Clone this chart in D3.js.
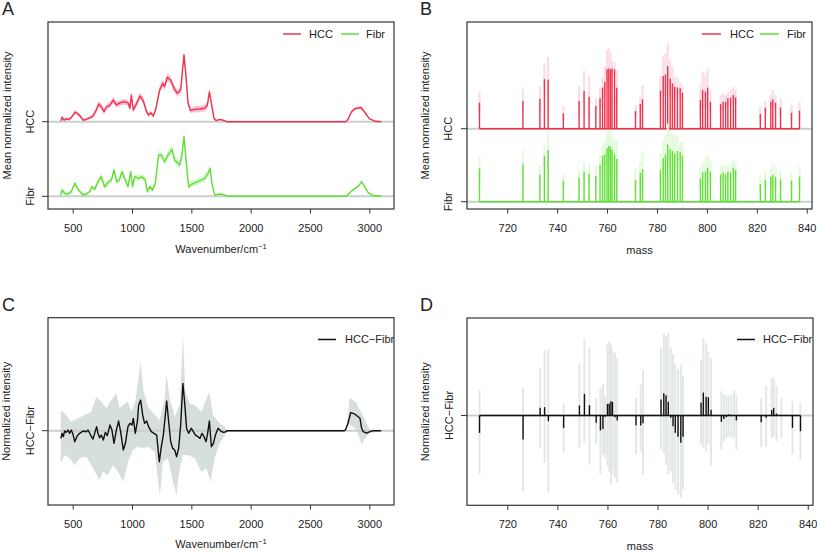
<!DOCTYPE html>
<html><head><meta charset="utf-8">
<script src="https://cdn.jsdelivr.net/npm/d3@7"></script>
<style>body{margin:0;background:#fff}svg text{font-family:"Liberation Sans",Arial,Helvetica,sans-serif;fill:#222}</style>
</head><body><svg id="c" width="817" height="553"></svg>
<script>
// ---------- DATA ----------
const groups = ["HCC", "Fibr"];
const groupOffsets = [1, 0];
const waveTicks = [500, 1000, 1500, 2000, 2500, 3000];
const massTicks = [720, 740, 760, 780, 800, 820, 840];

// Raman spectra: [wavenumber, mean, sd]
const hccSpectrum = [[400,0.01,0.01],[410,0.06,0.02],[427,0.02,0.02],[446,0.04,0.02],[466,0.03,0.02],[488,0.055,0.02],[522,0.13,0.025],[559,0.085,0.025],[587,0.02,0.02],[615,0.032,0.02],[643,0.05,0.025],[671,0.076,0.03],[699,0.157,0.04],[719,0.237,0.045],[741,0.20,0.04],[764,0.134,0.035],[786,0.20,0.04],[812,0.22,0.04],[842,0.29,0.045],[868,0.224,0.04],[896,0.25,0.04],[932,0.268,0.04],[966,0.255,0.04],[983,0.179,0.04],[994,0.358,0.04],[1011,0.157,0.04],[1039,0.246,0.045],[1067,0.344,0.05],[1095,0.28,0.05],[1123,0.134,0.04],[1140,0.09,0.03],[1157,0.121,0.03],[1180,0.076,0.03],[1202,0.179,0.035],[1233,0.425,0.045],[1258,0.514,0.05],[1275,0.47,0.05],[1297,0.595,0.055],[1326,0.559,0.055],[1354,0.447,0.05],[1382,0.38,0.05],[1410,0.425,0.05],[1438,0.894,0.065],[1455,0.61,0.05],[1472,0.25,0.04],[1494,0.148,0.035],[1528,0.166,0.04],[1570,0.17,0.045],[1612,0.18,0.045],[1635,0.22,0.045],[1652,0.40,0.045],[1669,0.25,0.035],[1691,0.045,0.02],[1711,0.014,0.01],[1739,0.03,0.01],[1767,0.02,0.01],[1795,0.005,0.005],[1800,0,0],[2800,0,0],[2820,0.03,0.01],[2850,0.134,0.02],[2880,0.175,0.02],[2930,0.19,0.02],[2960,0.13,0.015],[3000,0.04,0.01],[3050,0.005,0.005],[3100,0,0]];
const fibrSpectrum = [[400,0.017,0.03],[410,0.084,0.04],[432,0.04,0.035],[460,0.031,0.03],[488,0.062,0.03],[517,0.174,0.03],[550,0.084,0.03],[587,0.017,0.02],[615,0.031,0.02],[643,0.062,0.025],[662,0.129,0.03],[685,0.093,0.03],[713,0.196,0.04],[741,0.263,0.045],[769,0.129,0.04],[792,0.174,0.04],[826,0.218,0.04],[848,0.353,0.045],[871,0.196,0.04],[893,0.218,0.04],[916,0.33,0.045],[944,0.218,0.04],[966,0.129,0.035],[989,0.33,0.04],[1005,0.129,0.035],[1022,0.263,0.04],[1056,0.241,0.04],[1084,0.263,0.04],[1112,0.218,0.04],[1129,0.062,0.03],[1151,0.129,0.03],[1174,0.084,0.03],[1196,0.174,0.035],[1224,0.554,0.05],[1247,0.554,0.05],[1275,0.464,0.05],[1303,0.554,0.05],[1337,0.63,0.055],[1360,0.487,0.05],[1402,0.42,0.05],[1421,0.554,0.05],[1438,0.80,0.06],[1455,0.487,0.05],[1477,0.129,0.04],[1506,0.165,0.04],[1556,0.196,0.045],[1612,0.241,0.045],[1641,0.308,0.045],[1658,0.375,0.045],[1674,0.174,0.035],[1697,0.017,0.02],[1725,0.026,0.01],[1753,0.031,0.01],[1781,0.017,0.01],[1800,0,0],[2800,0,0],[2820,0.02,0.01],[2850,0.07,0.015],[2880,0.107,0.015],[2910,0.14,0.015],[2935,0.196,0.015],[2960,0.13,0.015],[2990,0.05,0.01],[3030,0.01,0.005],[3100,0,0]];

// Difference spectrum HCC-Fibr: [wavenumber, value]
const diffSpectrum = [[400,-0.0153],[410,-0.0053],[421,-0.012],[432,-0.0007],[446,-0.0033],[460,0.0013],[474,-0.0053],[488,0.0013],[503,-0.0073],[517,-0.022],[539,-0.01],[559,-0.0053],[587,-0.0007],[615,-0.002],[629,0.0013],[651,-0.0087],[671,-0.0167],[685,-0.0053],[702,0.008],[713,-0.0053],[727,-0.014],[741,-0.0087],[758,-0.0187],[775,-0.0033],[792,-0.01],[814,0.0113],[831,0.0013],[848,-0.0253],[868,0.0013],[887,0.0193],[904,-0.002],[927,-0.0387],[944,-0.0253],[966,0.008],[983,0.0147],[1000,0.0113],[1011,0.0247],[1028,-0.0053],[1045,0.018],[1056,0.0513],[1073,0.0613],[1090,0.0313],[1106,0.0147],[1123,0.0193],[1140,0.008],[1163,-0.002],[1185,-0.0053],[1208,-0.0087],[1230,-0.062],[1247,-0.032],[1264,-0.0087],[1281,0.0313],[1292,0.0593],[1309,0.018],[1326,-0.022],[1343,-0.0353],[1360,-0.0387],[1376,-0.052],[1393,-0.0353],[1410,0.0113],[1429,0.0947],[1443,0.058],[1460,0.0047],[1477,-0.0053],[1500,0.0047],[1517,-0.002],[1534,-0.0087],[1556,-0.012],[1573,-0.0153],[1590,-0.0053],[1607,-0.012],[1624,-0.022],[1635,-0.0087],[1652,0.0193],[1669,-0.032],[1686,-0.0253],[1703,-0.0087],[1725,0.0047],[1748,-0.0007],[1770,-0.0033],[1792,-0.002],[1800,0],[2790,0],[2800,0.002],[2820,0.015],[2843,0.036],[2879,0.033],[2921,0.025],[2935,0.005],[2949,-0.002],[2977,-0.005],[3005,-0.002],[3030,0],[3100,0]];
const diffBandUpper = [[399,0.0413],[432,0.0347],[488,0.018],[545,0.0247],[601,0.0313],[657,0.038],[699,0.068],[741,0.058],[783,0.0447],[826,0.0613],[868,0.0747],[896,0.0447],[924,0.0513],[966,0.058],[994,0.038],[1028,0.058],[1050,0.098],[1073,0.138],[1095,0.0813],[1134,0.048],[1191,0.0313],[1233,0.0213],[1275,0.0647],[1292,0.1113],[1317,0.0647],[1360,0.028],[1402,0.0513],[1429,0.1913],[1449,0.078],[1486,0.0547],[1528,0.0513],[1584,0.038],[1652,0.078],[1683,0.0313],[1725,0.018],[1781,0.008],[1795,0.0013],[1800,0],[2790,0],[2810,0.01],[2835,0.066],[2890,0.056],[2949,0.029],[3005,0.001],[3100,0]];
const diffBandLower = [[399,-0.0653],[432,-0.0487],[474,-0.0553],[517,-0.0687],[559,-0.0553],[615,-0.052],[671,-0.0753],[727,-0.0987],[755,-0.082],[797,-0.0887],[840,-0.0687],[882,-0.082],[927,-0.102],[966,-0.062],[1008,-0.0387],[1050,-0.032],[1092,-0.0353],[1134,-0.032],[1191,-0.042],[1235,-0.13],[1261,-0.062],[1303,-0.0553],[1345,-0.102],[1376,-0.1287],[1393,-0.0887],[1429,-0.0487],[1472,-0.0487],[1528,-0.0553],[1584,-0.082],[1626,-0.0753],[1663,-0.102],[1697,-0.0553],[1739,-0.0253],[1781,-0.01],[1795,-0.002],[1800,0],[2790,0],[2835,0.013],[2890,0.003],[2935,-0.027],[2977,-0.011],[3005,-0.005],[3100,0]];

// MS peaks
const massPeaks = [708.9,726.3,733.1,734.9,736.4,742.5,748.8,750.8,752.8,755.5,757.2,758.2,759.1,760.0,760.7,761.4,762.0,763.0,763.9,771.4,773.3,774.2,781.4,782.5,783.4,784.3,785.3,786.2,787.1,788.2,789.3,790.2,797.4,798.3,799.4,800.3,801.4,805.5,806.5,807.5,808.4,809.5,810.6,811.5,821.4,823.4,825.6,826.4,827.5,829.5,833.9,837.1];
const hccMean = [0.356,0.379,0.406,0.680,0.671,0.210,0.379,0.516,0.438,0.311,0.416,0.562,0.644,0.813,0.826,0.813,0.826,0.813,0.562,0.242,0.338,0.402,0.521,0.721,0.744,0.858,0.689,0.621,0.575,0.566,0.553,0.493,0.393,0.530,0.507,0.562,0.370,0.338,0.370,0.370,0.416,0.425,0.461,0.429,0.201,0.288,0.370,0.402,0.356,0.292,0.219,0.247];
const hccHi = [0.507,0.543,0.584,0.895,0.986,0.311,0.584,0.790,0.726,0.416,0.562,0.699,0.849,1.078,1.100,1.032,0.941,0.909,0.804,0.324,0.438,0.598,0.735,0.986,1.032,1.169,0.941,0.849,0.712,0.699,0.644,0.575,0.598,0.781,0.735,0.826,0.530,0.461,0.484,0.461,0.507,0.530,0.575,0.530,0.301,0.379,0.461,0.530,0.461,0.416,0.324,0.370];
const fibrMean = [0.457,0.511,0.374,0.630,0.708,0.288,0.329,0.411,0.384,0.356,0.502,0.630,0.648,0.731,0.763,0.753,0.708,0.648,0.584,0.297,0.397,0.443,0.434,0.594,0.648,0.785,0.717,0.694,0.662,0.694,0.685,0.630,0.320,0.402,0.411,0.466,0.411,0.374,0.397,0.374,0.411,0.402,0.466,0.434,0.242,0.297,0.342,0.365,0.342,0.306,0.288,0.342];
const fibrHi = [0.616,0.708,0.489,0.776,0.959,0.374,0.434,0.548,0.525,0.502,0.639,0.776,0.822,0.959,0.982,0.959,0.913,0.868,0.845,0.457,0.548,0.685,0.662,0.822,0.913,1.073,0.982,0.936,0.913,0.913,0.822,0.822,0.457,0.548,0.594,0.639,0.571,0.502,0.502,0.479,0.502,0.525,0.571,0.548,0.365,0.411,0.457,0.502,0.479,0.434,0.411,0.479];
const diffVal = [-0.237,-0.329,0.105,0.114,-0.078,-0.169,0.137,0.297,0.142,-0.100,-0.205,-0.183,-0.018,0.160,0.164,0.196,0.187,-0.023,-0.068,-0.132,-0.137,-0.105,0.219,0.306,0.279,0.187,-0.032,-0.146,-0.237,-0.292,-0.374,-0.292,0.174,0.315,0.256,0.251,0.078,-0.087,-0.046,-0.023,0.014,0.009,-0.005,-0.068,-0.091,-0.032,0.078,0.105,0.027,-0.005,-0.169,-0.215];
const diffHi = [0.342,0.379,0.644,0.895,0.913,0.164,0.699,1.050,0.936,0.242,0.379,0.425,0.265,0.973,1.018,0.973,0.881,0.858,0.790,0.242,0.425,0.630,0.927,1.119,1.087,1.132,0.927,0.836,0.699,0.630,0.699,0.539,0.767,1.064,0.995,0.881,0.790,0.333,0.297,0.265,0.265,0.288,0.342,0.274,0.242,0.402,0.507,0.516,0.402,0.242,0.196,0.174];
const diffLo = [-0.808,-1.037,-0.443,-0.648,-1.059,-0.511,-0.443,-0.374,-0.671,-0.397,-0.808,-0.534,-0.580,-0.694,-0.763,-0.945,-0.808,-0.854,-0.922,-0.534,-0.489,-0.808,-0.466,-0.511,-0.671,-0.808,-0.763,-0.922,-1.014,-1.082,-1.128,-1.014,-0.397,-0.443,-0.489,-0.397,-0.694,-0.466,-0.352,-0.306,-0.283,-0.306,-0.306,-0.466,-0.434,-0.420,-0.306,-0.283,-0.352,-0.306,-0.525,-0.603];

// ---------- DRAW ----------
const svg = d3.select("#c");
const RED = "#F0334A", GREEN = "#5FE034", PINK = "#F8C2D9", LGREEN = "#D8F5CC",
      PINK_B = "#FBDCE9", LGREEN_B = "#E5F9DD", BAND = "#D6DFDC", GBAR = "#E2E8E6", BASE = "#C9CFCF", INK = "#111";

function frame(x0, x1, y0, y1) {
  svg.append("rect").attr("x", x0).attr("y", y0).attr("width", x1 - x0).attr("height", y1 - y0)
    .attr("fill", "none").attr("stroke", "#333").attr("stroke-width", 1.2);
}
function xAxis(scale, y, ticks, title, titleY, sup) {
  const g = svg.append("g").attr("transform", `translate(0,${y})`)
    .call(d3.axisBottom(scale).tickValues(ticks).tickSize(4.5).tickPadding(10.7).tickFormat(d3.format("d")));
  g.select(".domain").remove();
  g.selectAll(".tick line").attr("stroke", "#333");
  g.selectAll(".tick text").attr("font-size", 11).style("font-family", '"Liberation Sans",Arial,sans-serif').attr("fill", "#222");
  const [r0, r1] = scale.range();
  const t = svg.append("text").attr("x", (r0 + r1) / 2).attr("y", titleY).attr("text-anchor", "middle").attr("font-size", 11).text(title);
  if (sup) t.append("tspan").attr("font-size", 7.5).attr("dy", -4.5).text(sup);
}
function yLabels(x0, yScale, ticks, labels, labelX, title, titleX, y0, y1) {
  ticks.forEach((v, i) => {
    svg.append("line").attr("x1", x0 - 6).attr("x2", x0).attr("y1", yScale(v)).attr("y2", yScale(v)).attr("stroke", "#333");
    svg.append("text").attr("transform", `translate(${labelX},${yScale(v)}) rotate(-90)`).attr("text-anchor", "middle").attr("font-size", 11).text(labels[i]);
  });
  svg.append("text").attr("transform", `translate(${titleX},${(y0 + y1) / 2}) rotate(-90)`).attr("text-anchor", "middle").attr("font-size", 11).text(title);
}
function legend(items, y) {
  items.forEach(it => {
    svg.append("line").attr("x1", it.x1).attr("x2", it.x2).attr("y1", y).attr("y2", y).attr("stroke", it.color).attr("stroke-width", 1.5);
    svg.append("text").attr("x", it.tx).attr("y", y + 3.8).attr("font-size", 11).text(it.label);
  });
}
function panelLetter(t, x, y) { svg.append("text").attr("x", x).attr("y", y).attr("font-size", 18).text(t); }

// ===== Panel A =====
{
  const x = d3.scaleLinear().domain([292, 3208]).range([48, 394]);
  const y = d3.scaleLinear().domain([-0.17, 2.336]).range([209, 22]);
  const specs = [hccSpectrum, fibrSpectrum];
  const lineCols = [RED, GREEN], bandCols = [PINK, LGREEN];
  specs.forEach((s, i) => {
    const off = groupOffsets[i];
    svg.append("path").datum(s).attr("fill", bandCols[i])
      .attr("d", d3.area().x(d => x(d[0])).y0(d => y(off + d[1] - d[2])).y1(d => y(off + d[1] + d[2])));
    svg.append("line").attr("x1", 48).attr("x2", 394).attr("y1", y(off)).attr("y2", y(off)).attr("stroke", BASE).attr("stroke-width", 2);
    svg.append("path").datum(s).attr("fill", "none").attr("stroke", lineCols[i]).attr("stroke-width", 1.4).attr("stroke-linejoin", "round")
      .attr("d", d3.line().x(d => x(d[0])).y(d => y(off + d[1])));
  });
  frame(48, 394, 22, 209);
  xAxis(x, 209, waveTicks, "Wavenumber/cm", 253, "−1");
  yLabels(48, y, groupOffsets, groups, 33.5, "Mean normalized intensity", 11, 22, 209);
  legend([{x1: 283, x2: 301, tx: 309, color: RED, label: "HCC"}, {x1: 341, x2: 359, tx: 366, color: GREEN, label: "Fibr"}], 34);
  panelLetter("A", 2, 15);
}

// ===== Panel B =====
{
  const x = d3.scaleLinear().domain([703.9, 842.1]).range([467, 812]);
  const y = d3.scaleLinear().domain([-0.1, 2.462]).range([209, 22]);
  const means = [hccMean, fibrMean], his = [hccHi, fibrHi];
  const lineCols = [RED, GREEN], bandCols = [PINK_B, LGREEN_B];
  [0, 1].forEach(i => {
    const off = groupOffsets[i];
    svg.append("line").attr("x1", 467).attr("x2", 812).attr("y1", y(off)).attr("y2", y(off)).attr("stroke", BASE).attr("stroke-width", 2);
    svg.append("g").selectAll("line").data(massPeaks).join("line")
      .attr("x1", d => x(d)).attr("x2", d => x(d))
      .attr("y1", (d, j) => y(off + 2 * means[i][j] - his[i][j])).attr("y2", (d, j) => y(off + his[i][j]))
      .attr("stroke", bandCols[i]).attr("stroke-width", 2.2);
    svg.append("g").selectAll("line").data(massPeaks).join("line")
      .attr("x1", d => x(d)).attr("x2", d => x(d))
      .attr("y1", y(off)).attr("y2", (d, j) => y(off + means[i][j]))
      .attr("stroke", lineCols[i]).attr("stroke-width", 1.4);
    svg.append("line").attr("x1", x(massPeaks[0])).attr("x2", x(massPeaks[massPeaks.length - 1])).attr("y1", y(off)).attr("y2", y(off))
      .attr("stroke", lineCols[i]).attr("stroke-width", 1.5);
  });
  frame(467, 812, 22, 209);
  xAxis(x, 209, massTicks, "mass", 254);
  yLabels(467, y, groupOffsets, groups, 452, "Mean normalized intensity", 429, 22, 209);
  legend([{x1: 702, x2: 721, tx: 730, color: RED, label: "HCC"}, {x1: 760, x2: 779, tx: 787, color: GREEN, label: "Fibr"}], 34);
  panelLetter("B", 420, 15);
}

// ===== Panel C =====
{
  const x = d3.scaleLinear().domain([292, 3208]).range([48, 394]);
  const y = d3.scaleLinear().domain([-0.1486, 0.226]).range([505, 317.7]);
  const poly = diffBandUpper.concat(diffBandLower.slice().reverse());
  svg.append("path").datum(poly).attr("fill", BAND)
    .attr("d", d => d3.line().x(p => x(p[0])).y(p => y(p[1]))(d) + "Z");
  svg.append("line").attr("x1", 48).attr("x2", 394).attr("y1", y(0)).attr("y2", y(0)).attr("stroke", BASE).attr("stroke-width", 2);
  svg.append("path").datum(diffSpectrum).attr("fill", "none").attr("stroke", INK).attr("stroke-width", 1.4).attr("stroke-linejoin", "round")
    .attr("d", d3.line().x(d => x(d[0])).y(d => y(d[1])));
  frame(48, 394, 317.7, 505);
  xAxis(x, 505, waveTicks, "Wavenumber/cm", 548, "−1");
  yLabels(48, y, [0], ["HCC−Fibr"], 34, "Normalized intensity", 10, 317.7, 505);
  legend([{x1: 318, x2: 336, tx: 345, color: INK, label: "HCC−Fibr"}], 339.5);
  panelLetter("C", 2, 311);
}

// ===== Panel D =====
{
  const x = d3.scaleLinear().domain([703.9, 842.1]).range([467, 813]);
  const y = d3.scaleLinear().domain([-1.23, 1.336]).range([505.3, 318]);
  svg.append("g").selectAll("line").data(massPeaks).join("line")
    .attr("x1", d => x(d)).attr("x2", d => x(d))
    .attr("y1", (d, j) => y(diffLo[j])).attr("y2", (d, j) => y(diffHi[j]))
    .attr("stroke", GBAR).attr("stroke-width", 2);
  svg.append("line").attr("x1", 467).attr("x2", 813).attr("y1", y(0)).attr("y2", y(0)).attr("stroke", BASE).attr("stroke-width", 2);
  svg.append("g").selectAll("line").data(massPeaks).join("line")
    .attr("x1", d => x(d)).attr("x2", d => x(d))
    .attr("y1", y(0)).attr("y2", (d, j) => y(diffVal[j]))
    .attr("stroke", INK).attr("stroke-width", 1.4);
  svg.append("line").attr("x1", x(massPeaks[0])).attr("x2", x(massPeaks[massPeaks.length - 1])).attr("y1", y(0)).attr("y2", y(0))
    .attr("stroke", INK).attr("stroke-width", 1.3);
  frame(467, 813, 318, 505.3);
  xAxis(x, 505.3, massTicks, "mass", 550);
  yLabels(467, y, [0], ["HCC−Fibr"], 453, "Normalized intensity", 429, 318, 505.3);
  legend([{x1: 737, x2: 755, tx: 763, color: INK, label: "HCC−Fibr"}], 339.5);
  panelLetter("D", 420, 311);
}
</script></body></html>
